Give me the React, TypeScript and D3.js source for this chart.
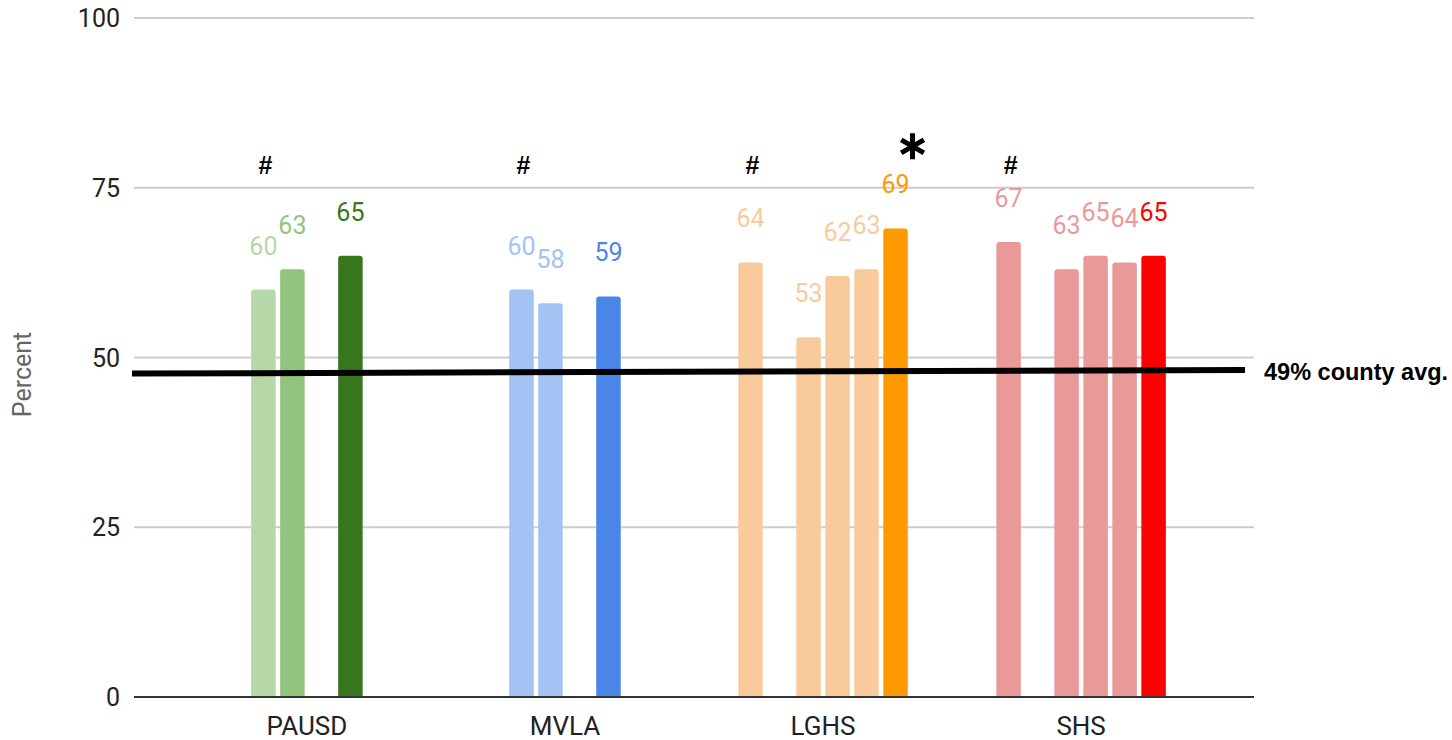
import React from "react";
import * as d3 from "d3";

const categories = ["PAUSD", "MVLA", "LGHS", "SHS"];
// values per slot within each group (null = empty slot)
const pausdValues: (number | null)[] = [60, 63, null, 65];
const mvlaValues: (number | null)[] = [60, 58, null, 59];
const lghsValues: (number | null)[] = [64, null, 53, 62, 63, 69];
const shsValues: (number | null)[] = [67, null, 63, 65, 64, 65];
const pausdColors = ["#b6d7a8", "#93c47d", "", "#38761d"];
const mvlaColors = ["#a4c2f4", "#a4c2f4", "", "#4a86e8"];
const lghsColors = ["#f9cb9c", "", "#f9cb9c", "#f9cb9c", "#f9cb9c", "#ff9900"];
const shsColors = ["#ea9999", "", "#ea9999", "#ea9999", "#ea9999", "#ff0000"];
const yTicks = [0, 25, 50, 75, 100];
const avgLabel = "49% county avg.";
const avgStart = 47.64;
const avgEnd = 48.16;
const hashValue = 78.3;
const starValue = 81.1;

const groups = [
  { name: categories[0], values: pausdValues, colors: pausdColors },
  { name: categories[1], values: mvlaValues, colors: mvlaColors },
  { name: categories[2], values: lghsValues, colors: lghsColors },
  { name: categories[3], values: shsValues, colors: shsColors },
];

const W = 1452;
const H = 740;
const left = 134;
const right = 1254;
const top = 18;
const bottom = 697;
const slotStep = 29;
const barW = 24.5;
const font = "Roboto, 'Noto Sans', sans-serif";

export default function App() {
  const x = d3.scaleBand<string>().domain(categories).range([left, right]).paddingInner(0).paddingOuter(0.17);
  const y = d3.scaleLinear().domain([0, 100]).range([bottom, top]);

  const slotX = (g: number, i: number) => {
    const n = groups[g].values.length;
    const c = (x(groups[g].name) as number) + x.bandwidth() / 2;
    return c + (i - (n - 1) / 2) * slotStep;
  };

  const barPath = (cx: number, v: number) => {
    const x0 = cx - barW / 2;
    const x1 = cx + barW / 2;
    const yt = y(v);
    const r = 3;
    return `M${x0},${bottom} L${x0},${yt + r} Q${x0},${yt} ${x0 + r},${yt} L${x1 - r},${yt} Q${x1},${yt} ${x1},${yt + r} L${x1},${bottom} Z`;
  };

  const star = d3.symbol().type(d3.symbolAsterisk).size(480)() as string;

  return (
    <svg width={W} height={H} style={{ position: "absolute", left: 0, top: 0, background: "#fff" }}>
      {yTicks.map((t) => (
        <g key={t}>
          {t !== 0 && <line x1={left} x2={right} y1={y(t)} y2={y(t)} stroke="#cccccc" strokeWidth={2} />}
          <text x={120} y={y(t)} dy="0.36em" textAnchor="end" fontFamily={font} fontSize={25} fill="#222">
            {t}
          </text>
        </g>
      ))}
      <text
        transform={`translate(31,${(top + bottom) / 2 + 17}) rotate(-90)`}
        textAnchor="middle"
        fontFamily={font}
        fontSize={25}
        fill="#666"
      >
        Percent
      </text>
      {groups.map((g, gi) =>
        g.values.map((v, i) =>
          v == null ? null : (
            <g key={`${gi}-${i}`}>
              <path d={barPath(slotX(gi, i), v)} fill={g.colors[i]} />
              <text
                x={slotX(gi, i)}
                y={y(v) - 35}
                textAnchor="middle"
                fontFamily={font}
                fontSize={25}
                fill={g.colors[i]}
              >
                {v}
              </text>
            </g>
          )
        )
      )}
      <line x1={left} x2={right} y1={bottom} y2={bottom} stroke="#333" strokeWidth={2} />
      {groups.map((g) => (
        <text
          key={g.name}
          x={(x(g.name) as number) + x.bandwidth() / 2}
          y={bottom + 38}
          textAnchor="middle"
          fontFamily={font}
          fontSize={26}
          fill="#222"
        >
          {g.name}
        </text>
      ))}
      {groups.map((g, gi) => (
        <text
          key={`h${gi}`}
          x={slotX(gi, 0) + 2}
          y={y(hashValue)}
          dy="0.36em"
          textAnchor="middle"
          fontFamily="'Liberation Sans', Arial, sans-serif"
          fontWeight="bold"
          fontSize={25}
          fill="#000"
        >
          #
        </text>
      ))}
      <path
        d={star}
        transform={`translate(${slotX(2, 5) + 17},${y(starValue)})`}
        fill="none"
        stroke="#000"
        strokeWidth={5}
      />
      <line x1={132} x2={1245} y1={y(avgStart)} y2={y(avgEnd)} stroke="#000" strokeWidth={6} />
      <text
        x={1264}
        y={380}
        fontFamily="'Liberation Sans', Arial, sans-serif"
        fontWeight="bold"
        fontSize={23.5}
        fill="#000"
      >
        {avgLabel}
      </text>
    </svg>
  );
}
